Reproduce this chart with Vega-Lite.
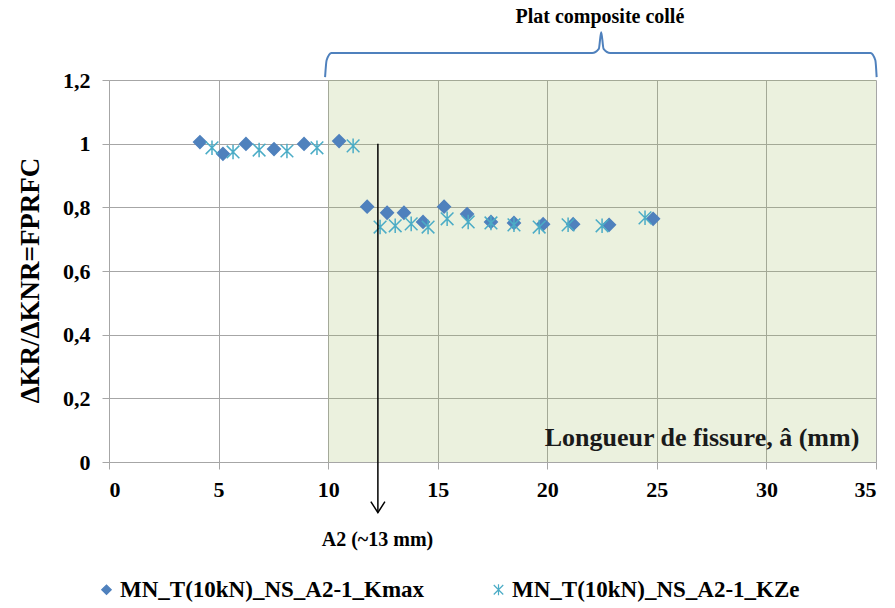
{
  "$schema": "https://vega.github.io/schema/vega-lite/v6.json",
  "width": 767,
  "height": 382,
  "autosize": {"type": "none"},
  "padding": {"left": 109, "top": 80, "right": 19, "bottom": 146},
  "background": "white",
  "config": {
    "view": {"stroke": null},
    "font": "Liberation Serif",
    "axis": {
      "gridColor": "#a6a6a6",
      "gridWidth": 1,
      "domainColor": "#a6a6a6",
      "tickColor": "#a6a6a6",
      "tickSize": 7,
      "labelFont": "Liberation Serif",
      "labelFontWeight": "bold",
      "labelFontSize": 22,
      "labelColor": "#000000"
    }
  },
  "layer": [
    {
      "data": {"values": [{"x": 10, "x2": 35, "y": 0, "y2": 1.2}]},
      "mark": {"type": "rect", "fill": "#9bbb59", "opacity": 0.2},
      "encoding": {
        "x": {"field": "x", "type": "quantitative",
          "scale": {"domain": [0, 35], "nice": false, "zero": false},
          "axis": {"values": [0, 5, 10, 15, 20, 25, 30, 35], "title": null, "labelPadding": 10}},
        "x2": {"field": "x2"},
        "y": {"field": "y", "type": "quantitative",
          "scale": {"domain": [0, 1.2], "nice": false},
          "axis": {"values": [0, 0.2, 0.4, 0.6, 0.8, 1, 1.2],
            "labelExpr": "replace(format(datum.value, '.1~f'), '.', ',')",
            "labelPadding": 12,
            "title": "ΔKR/ΔKNR=FPRFC",
            "titleFont": "Liberation Serif",
            "titleFontWeight": "bold",
            "titleFontSize": 27,
            "titleColor": "#000000",
            "titleAngle": -90,
            "titleX": -79,
            "titleY": 200,
            "titleAlign": "center",
            "titleBaseline": "middle"}},
        "y2": {"field": "y2"}
      }
    },
    {
      "data": {"values": [
        {"series": "MN_T(10kN)_NS_A2-1_Kmax", "x": 4.15, "y": 1.005},
        {"series": "MN_T(10kN)_NS_A2-1_Kmax", "x": 5.20, "y": 0.968},
        {"series": "MN_T(10kN)_NS_A2-1_Kmax", "x": 6.25, "y": 0.999},
        {"series": "MN_T(10kN)_NS_A2-1_Kmax", "x": 7.53, "y": 0.983},
        {"series": "MN_T(10kN)_NS_A2-1_Kmax", "x": 8.90, "y": 0.999},
        {"series": "MN_T(10kN)_NS_A2-1_Kmax", "x": 10.50, "y": 1.008},
        {"series": "MN_T(10kN)_NS_A2-1_Kmax", "x": 11.78, "y": 0.802},
        {"series": "MN_T(10kN)_NS_A2-1_Kmax", "x": 12.69, "y": 0.783},
        {"series": "MN_T(10kN)_NS_A2-1_Kmax", "x": 13.46, "y": 0.783},
        {"series": "MN_T(10kN)_NS_A2-1_Kmax", "x": 14.33, "y": 0.754},
        {"series": "MN_T(10kN)_NS_A2-1_Kmax", "x": 15.29, "y": 0.802},
        {"series": "MN_T(10kN)_NS_A2-1_Kmax", "x": 16.34, "y": 0.779},
        {"series": "MN_T(10kN)_NS_A2-1_Kmax", "x": 17.43, "y": 0.754},
        {"series": "MN_T(10kN)_NS_A2-1_Kmax", "x": 18.48, "y": 0.751},
        {"series": "MN_T(10kN)_NS_A2-1_Kmax", "x": 19.81, "y": 0.747},
        {"series": "MN_T(10kN)_NS_A2-1_Kmax", "x": 21.18, "y": 0.747},
        {"series": "MN_T(10kN)_NS_A2-1_Kmax", "x": 22.82, "y": 0.745},
        {"series": "MN_T(10kN)_NS_A2-1_Kmax", "x": 24.83, "y": 0.764},
        {"series": "MN_T(10kN)_NS_A2-1_KZe", "x": 4.70, "y": 0.987},
        {"series": "MN_T(10kN)_NS_A2-1_KZe", "x": 5.66, "y": 0.974},
        {"series": "MN_T(10kN)_NS_A2-1_KZe", "x": 6.85, "y": 0.980},
        {"series": "MN_T(10kN)_NS_A2-1_KZe", "x": 8.12, "y": 0.977},
        {"series": "MN_T(10kN)_NS_A2-1_KZe", "x": 9.49, "y": 0.987},
        {"series": "MN_T(10kN)_NS_A2-1_KZe", "x": 11.14, "y": 0.993},
        {"series": "MN_T(10kN)_NS_A2-1_KZe", "x": 12.37, "y": 0.738},
        {"series": "MN_T(10kN)_NS_A2-1_KZe", "x": 13.06, "y": 0.742},
        {"series": "MN_T(10kN)_NS_A2-1_KZe", "x": 13.79, "y": 0.748},
        {"series": "MN_T(10kN)_NS_A2-1_KZe", "x": 14.56, "y": 0.738},
        {"series": "MN_T(10kN)_NS_A2-1_KZe", "x": 15.43, "y": 0.764},
        {"series": "MN_T(10kN)_NS_A2-1_KZe", "x": 16.39, "y": 0.754},
        {"series": "MN_T(10kN)_NS_A2-1_KZe", "x": 17.43, "y": 0.751},
        {"series": "MN_T(10kN)_NS_A2-1_KZe", "x": 18.48, "y": 0.745},
        {"series": "MN_T(10kN)_NS_A2-1_KZe", "x": 19.63, "y": 0.738},
        {"series": "MN_T(10kN)_NS_A2-1_KZe", "x": 20.95, "y": 0.745},
        {"series": "MN_T(10kN)_NS_A2-1_KZe", "x": 22.50, "y": 0.742},
        {"series": "MN_T(10kN)_NS_A2-1_KZe", "x": 24.46, "y": 0.767}
      ]},
      "mark": {"type": "point", "filled": true, "size": 160, "strokeWidth": 1.5, "opacity": 1},
      "encoding": {
        "x": {"field": "x", "type": "quantitative"},
        "y": {"field": "y", "type": "quantitative"},
        "fill": {"field": "series", "type": "nominal",
          "scale": {"domain": ["MN_T(10kN)_NS_A2-1_Kmax", "MN_T(10kN)_NS_A2-1_KZe"], "range": ["#4f81bd", "#4bacc6"]},
          "legend": {
            "orient": "none", "direction": "horizontal",
            "legendX": -14, "legendY": 498,
            "title": null,
            "labelFont": "Liberation Serif", "labelFontWeight": "bold", "labelFontSize": 23,
            "labelColor": "#000000", "labelLimit": 500, "labelOffset": 2,
            "symbolSize": 90, "symbolStrokeWidth": 1.2,
            "columnPadding": 62
          }},
        "stroke": {"field": "series", "type": "nominal",
          "scale": {"domain": ["MN_T(10kN)_NS_A2-1_Kmax", "MN_T(10kN)_NS_A2-1_KZe"], "range": ["#4f81bd", "#4bacc6"]}},
        "shape": {"field": "series", "type": "nominal",
          "scale": {"domain": ["MN_T(10kN)_NS_A2-1_Kmax", "MN_T(10kN)_NS_A2-1_KZe"], "range": ["diamond", "M-1,-1L1,1M1,-1L-1,1M0,-1.15L0,1.15"]}}
      }
    },
    {
      "data": {"values": [{"x": 12.27, "y": 1, "y2": -0.159}]},
      "mark": {"type": "rule", "color": "#000000", "strokeWidth": 1.5},
      "encoding": {
        "x": {"field": "x", "type": "quantitative"},
        "y": {"field": "y", "type": "quantitative"},
        "y2": {"field": "y2"}
      }
    },
    {
      "data": {"values": [{"x": 12.27, "y": -0.159}]},
      "mark": {"type": "point", "filled": false, "color": "#000000", "strokeWidth": 1.5, "opacity": 1, "size": 484,
        "shape": "M-0.64,-1L0,0L0.64,-1"},
      "encoding": {
        "x": {"field": "x", "type": "quantitative"},
        "y": {"field": "y", "type": "quantitative"}
      }
    },
    {
      "data": {"values": [
        {"x": 9.86, "y": 1.209}, {"x": 9.93, "y": 1.262}, {"x": 10.15, "y": 1.285},
        {"x": 22.05, "y": 1.285}, {"x": 22.35, "y": 1.298}, {"x": 22.46, "y": 1.35},
        {"x": 22.57, "y": 1.298}, {"x": 22.87, "y": 1.285}, {"x": 34.75, "y": 1.285},
        {"x": 34.97, "y": 1.262}, {"x": 35.03, "y": 1.209}
      ]},
      "mark": {"type": "line", "color": "#4f81bd", "strokeWidth": 2, "interpolate": "monotone", "clip": false},
      "encoding": {
        "x": {"field": "x", "type": "quantitative"},
        "y": {"field": "y", "type": "quantitative"}
      }
    },
    {
      "data": {"values": [{"x": 22.4, "y": 1.398, "label": "Plat composite collé"}]},
      "mark": {"type": "text", "font": "Liberation Serif", "fontWeight": "bold", "fontSize": 20, "color": "#000000", "align": "center", "baseline": "middle"},
      "encoding": {
        "x": {"field": "x", "type": "quantitative"},
        "y": {"field": "y", "type": "quantitative"},
        "text": {"field": "label"}
      }
    },
    {
      "data": {"values": [{"x": 27.06, "y": 0.051, "label": "Longueur de fissure, â (mm)"}]},
      "mark": {"type": "text", "font": "Liberation Serif", "fontWeight": "bold", "fontSize": 26, "color": "#1a1a1a", "align": "center", "baseline": "alphabetic"},
      "encoding": {
        "x": {"field": "x", "type": "quantitative"},
        "y": {"field": "y", "type": "quantitative"},
        "text": {"field": "label"}
      }
    },
    {
      "data": {"values": [{"x": 12.25, "y": -0.245, "label": "A2 (~13 mm)"}]},
      "mark": {"type": "text", "font": "Liberation Serif", "fontWeight": "bold", "fontSize": 20, "color": "#000000", "align": "center", "baseline": "middle"},
      "encoding": {
        "x": {"field": "x", "type": "quantitative"},
        "y": {"field": "y", "type": "quantitative"},
        "text": {"field": "label"}
      }
    }
  ]
}
